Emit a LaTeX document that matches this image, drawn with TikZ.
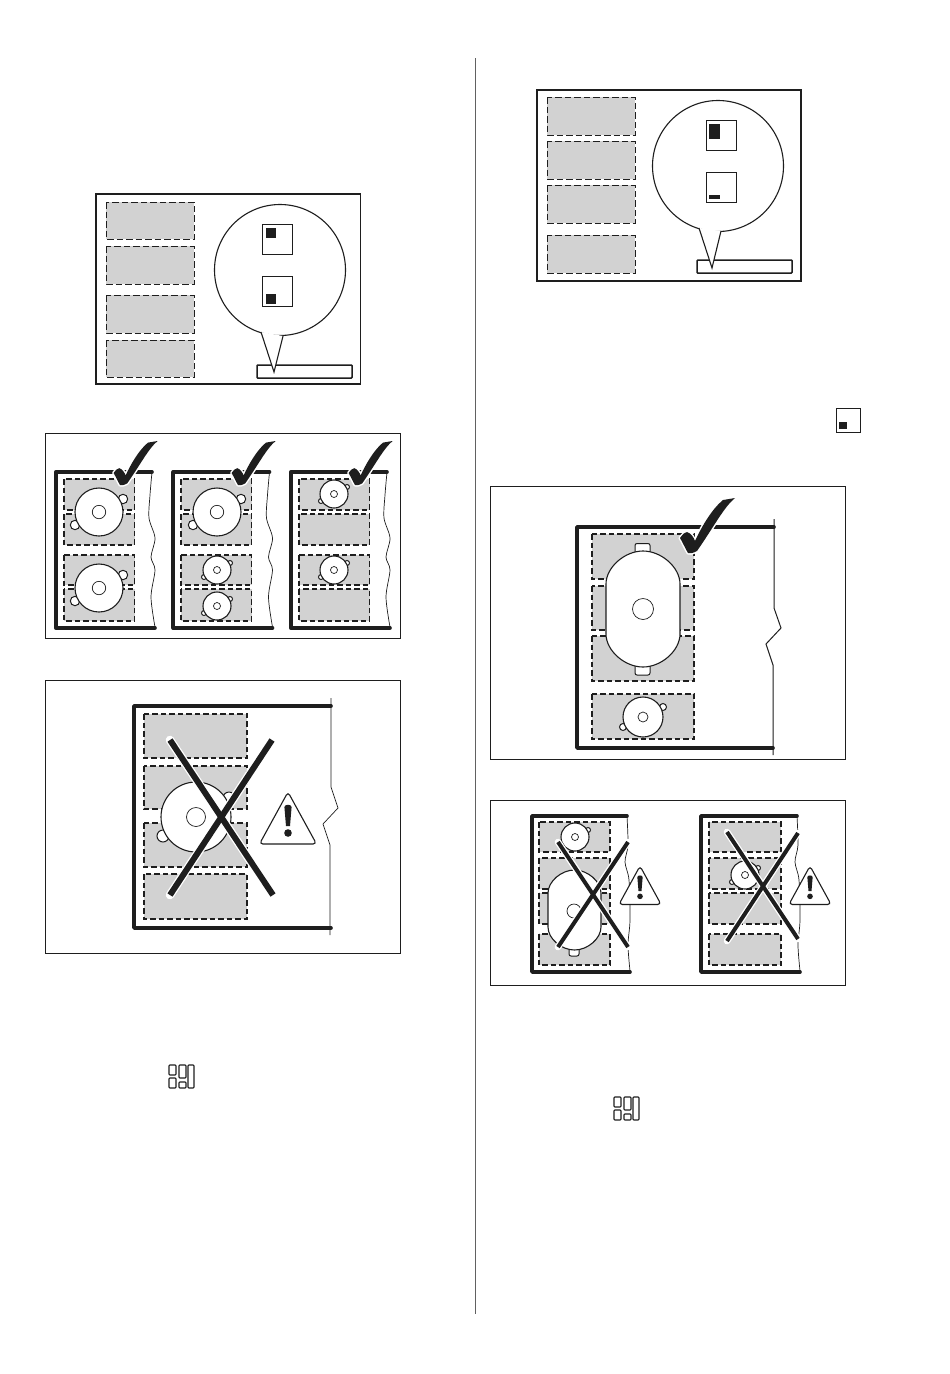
\documentclass[tikz,border=0pt]{standalone}
\usetikzlibrary{calc}
\definecolor{zonegray}{RGB}{210,210,210}
\definecolor{inkc}{RGB}{30,30,30}
\tikzset{
  panel/.style={draw=inkc,line width=0.9pt,fill=white},
  frameb/.style={draw=inkc,line width=1.7pt,fill=white},
  zone/.style={draw=inkc,fill=zonegray,dash pattern=on 5.5pt off 3pt,line width=1.4pt},
  zonethin/.style={draw=inkc,fill=zonegray,dash pattern=on 6.5pt off 3pt,line width=0.9pt},
  cook/.style={draw=inkc,line width=3.6pt,line cap=round,line join=round},
  edgel/.style={draw=inkc,line width=0.7pt},
  pot/.style={draw=inkc,fill=white,line width=1.1pt},
  potthin/.style={draw=inkc,fill=white,line width=0.7pt},
  bubble/.style={draw=inkc,fill=white,line width=1.1pt},
  smallsq/.style={draw=inkc,fill=white,line width=0.9pt},
  blackm/.style={fill=inkc},
  bar/.style={draw=inkc,fill=white,line width=1.5pt,rounded corners=0.8pt},
  icon/.style={draw=inkc,line width=1.1pt,rounded corners=0.8pt},
}
\newcommand{\zn}[4]{\draw[zone] (#1,#2) rectangle (#3,#4);}
\newcommand{\zt}[4]{\draw[zonethin] (#1,#2) rectangle (#3,#4);}
% round pot: x y r inner handle-dx handle-dy handle-r
\newcommand{\rpot}[7]{%
  \draw[potthin,line width=1pt] (#1+#5,#2-#6) circle (#7);
  \draw[potthin,line width=1pt] (#1-#5,#2+#6) circle (#7);
  \draw[pot] (#1,#2) circle (#3);
  \draw[potthin] (#1,#2) circle (#4);}
% oval pot: cx cy rx halfheight ry
\newcommand{\ovalpot}[5]{%
  \pgfmathsetmacro{\kx}{0.5*#3}\pgfmathsetmacro{\ky}{0.5*#5}%
  \draw[pot] (#1-#3,#2-#4+#5) .. controls (#1-#3,#2-#4+#5-\ky) and (#1-\kx,#2-#4) .. (#1,#2-#4)
    .. controls (#1+\kx,#2-#4) and (#1+#3,#2-#4+#5-\ky) .. (#1+#3,#2-#4+#5)
    -- (#1+#3,#2+#4-#5) .. controls (#1+#3,#2+#4-#5+\ky) and (#1+\kx,#2+#4) .. (#1,#2+#4)
    .. controls (#1-\kx,#2+#4) and (#1-#3,#2+#4-#5+\ky) .. (#1-#3,#2+#4-#5) -- cycle;}
% cross: two strokes and a width
\newcommand{\crossx}[9]{%
  \draw[white,line width=#9pt+2.6pt,line cap=round] (#1,#2) -- (#3,#4);
  \draw[white,line width=#9pt+2.6pt,line cap=round] (#5,#6) -- (#7,#8);
  \draw[inkc,line width=#9pt] (#1,#2) -- (#3,#4);
  \draw[inkc,line width=#9pt] (#5,#6) -- (#7,#8);}
% check mark: x y scale
\newcommand{\chkpath}{(-8,-15) .. controls (-5,-19) and (-3,-21) .. (-1,-21) .. controls (3,-20) and (6,-15) .. (7,-12) .. controls (14,-27) and (24,-44) .. (35,-53) -- (47,-55) .. controls (36,-46) and (27,-28) .. (9,-2) .. controls (5,0) and (2,1) .. (0,0) .. controls (-3,-5) and (-5,-10) .. (-8,-15) -- cycle}
\newcommand{\chk}[3]{%
  \begin{scope}[shift={(#1,#2)},x=#3pt,y=-#3pt]
  \path[fill=white,draw=white,line width=3pt,line join=round] \chkpath;
  \path[fill=inkc] \chkpath;
  \end{scope}}
% caution triangle: x y scale
\newcommand{\warn}[3]{%
  \begin{scope}[shift={(#1,#2)},x=#3pt,y=-#3pt]
  \draw[draw=inkc,fill=white,line width=1.1pt,rounded corners=3.5pt] (0,0) -- (28.5,52) -- (-28.5,52) -- cycle;
  \path[fill=inkc] (-3.6,15) .. controls (-3.4,12) and (3.4,12) .. (3.6,15) -- (2,34) -- (-2,34) -- cycle;
  \path[fill=inkc] (0,41) circle (3.8);
  \end{scope}}
% small icon: x y
\newcommand{\zonesicon}[2]{%
  \begin{scope}[shift={(#1,#2)}]
  \draw[icon] (0,0) rectangle (7,10);
  \draw[icon] (0,13) rectangle (7,23);
  \draw[icon] (10,0) rectangle (17,13);
  \draw[icon] (10,17) rectangle (17,23);
  \draw[icon] (19,0) rectangle (25,23);
  \end{scope}}
% small cooktop outline with wavy edge: xshift
\newcommand{\smallcook}[1]{%
  \begin{scope}[shift={(#1,0)}]
  \draw[edgel] plot[smooth,tension=0.5] coordinates {(152,472) (150,495) (149,518) (155,538) (151,557) (155,570) (151,597) (155,627)};
  \draw[cook] (152,472) -- (55.7,472) -- (55.7,628) -- (155,628);
  \end{scope}}
% callout bubble: cx cy  lx ly  rx ry  tx ty
\newcommand{\callout}[8]{%
  \draw[bubble] (#1,#2) circle (65.5);
  \fill[white] (#3,#4) -- (#7,#8) -- (#5,#6) -- cycle;
  \draw[draw=inkc,line width=1.1pt,line join=miter] (#3,#4) -- (#7,#8) -- (#5,#6);}
\begin{document}
\begin{tikzpicture}[x=1pt,y=-1pt]
\useasboundingbox (0,0) rectangle (950,1374);
\fill[white] (0,0) rectangle (950,1374);
\draw[draw=inkc!70,line width=0.7pt] (475,58) -- (475,1314);

% ---- top left panel
\draw[frameb] (96,194) rectangle (360.5,384);
\zt{106}{202}{194}{239}\zt{106}{246}{194}{284}\zt{106}{295}{194}{333}\zt{106}{340}{194}{377}
\draw[bar] (257,365) rectangle (352,378);
\callout{280}{270}{261}{332}{283}{336}{274}{372}
\draw[smallsq] (262,224) rectangle (292,254);
\fill[blackm] (266,228) rectangle (276,238);
\draw[smallsq] (262,276) rectangle (292,306);
\fill[blackm] (266,294) rectangle (276,304);

% ---- top right panel
\draw[frameb] (537,90) rectangle (801,281);
\zt{547}{97}{635}{135}\zt{547}{141}{635}{179}\zt{547}{185}{635}{223}\zt{547}{235}{635}{273}
\draw[bar] (697,260) rectangle (792,273);
\callout{718}{166}{699}{228}{721}{231}{712}{268}
\draw[smallsq] (706,120) rectangle (736,150);
\fill[blackm] (709,124) rectangle (720,139);
\draw[smallsq] (706,172) rectangle (736,202);
\fill[blackm] (709,195) rectangle (720,199);
% lone key square
\draw[smallsq] (836,408) rectangle (860.5,432);
\fill[blackm] (839,422) rectangle (847,429);

% ---- three good layouts
\draw[panel] (45,433) rectangle (400.5,638);
\foreach \dx/\ex in {0/64,117.5/181,235/299}{
  \pgfmathsetmacro{\xr}{\ex+70.5}
  \zn{\ex}{479}{\xr}{510}\zn{\ex}{514}{\xr}{545}\zn{\ex}{555}{\xr}{585}\zn{\ex}{589}{\xr}{621}
  \smallcook{\dx}
}
\rpot{99}{512}{24}{6.7}{24}{13}{4.7}
\rpot{99}{588}{24}{6.7}{24}{13}{4.7}
\rpot{217}{512}{24}{6.7}{24}{13}{4.7}
\rpot{217}{570}{14}{3.5}{13}{7}{2.5}
\rpot{217}{606}{14}{3.5}{13}{7}{2.5}
\rpot{334}{494}{14}{3.5}{13}{7}{2.5}
\rpot{334}{570}{14}{3.5}{13}{7}{2.5}
\chk{120}{485}{0.8}
\chk{238}{485}{0.8}
\chk{355}{485}{0.8}

% ---- bad layout left
\draw[panel] (45,680) rectangle (400.5,953.5);
\zn{144}{714}{247}{758}\zn{144}{766}{247}{809}\zn{144}{823}{247}{867}\zn{144}{874}{247}{919}
\draw[edgel] (331,698) -- (331,787) -- (338,808) -- (323,824) -- (330,845) -- (330,935);
\draw[cook] (331,706) -- (134,706) -- (134,928) -- (331,928);
\rpot{196}{817}{35}{9.5}{33}{19}{6}
\crossx{170}{740}{273}{895}{272}{740}{170}{895}{6}
\warn{288}{792}{1}

% ---- good layout right
\draw[panel] (490,486) rectangle (845.5,759.5);
\zn{592}{534}{694}{579}\zn{592}{586}{694}{630}\zn{592}{636}{694}{681}\zn{592}{694}{694}{739}
\draw[edgel,line width=1pt] (774,519) -- (774,608) -- (781,628) -- (766,644) -- (773,665) -- (773,755);
\draw[cook] (774,527) -- (577,527) -- (577,748) -- (773,748);
\draw[potthin,line width=1pt,rounded corners=2pt] (635,553) -- (635,543.5) -- (650,543.5) -- (650,553);
\draw[potthin,line width=1pt,rounded corners=2pt] (635,665) -- (635,675) -- (650,675) -- (650,665);
\ovalpot{643}{609}{37}{58}{33}
\draw[potthin] (643,609) circle (10.5);
\rpot{643}{717}{20}{5}{20}{10}{3.5}
\chk{688}{553}{1}

% ---- two bad layouts right
\draw[panel] (490,800) rectangle (845.5,985.5);
\zn{539}{822}{610}{852}\zn{539}{858}{610}{889}\zn{539}{893}{610}{924}\zn{539}{934}{610}{965}
\draw[edgel] plot[smooth,tension=0.5] coordinates {(627,816) (628,845) (625,862) (629,880) (630,920) (628,945) (630,971)};
\draw[cook] (627,816) -- (532,816) -- (532,972) -- (630,972);
\rpot{575}{837}{14}{3.5}{13}{7}{2.5}
\draw[potthin,line width=1pt,rounded corners=2pt] (569,948) -- (569,956) -- (579,956) -- (579,948);
\ovalpot{574.5}{910}{26.5}{40}{23}
\draw[potthin] (574,911) circle (7);
\crossx{558}{842}{628}{947}{628}{842}{558}{947}{4}
\warn{640}{866}{0.74}

\zn{709}{822}{781}{852}\zn{709}{858}{781}{889}\zn{709}{893}{781}{924}\zn{709}{934}{781}{965}
\draw[edgel] plot[smooth,tension=0.5] coordinates {(797,816) (798,845) (795,862) (799,880) (800,920) (798,945) (800,971)};
\draw[cook] (797,816) -- (701,816) -- (701,972) -- (800,972);
\rpot{745}{875}{14}{3.5}{13}{7}{2.5}
\crossx{727}{832}{798}{939}{798}{833}{727}{941}{4}
\warn{810}{866}{0.74}

% ---- zone icons
\zonesicon{169}{1065}
\zonesicon{614}{1097}
\end{tikzpicture}
\end{document}
